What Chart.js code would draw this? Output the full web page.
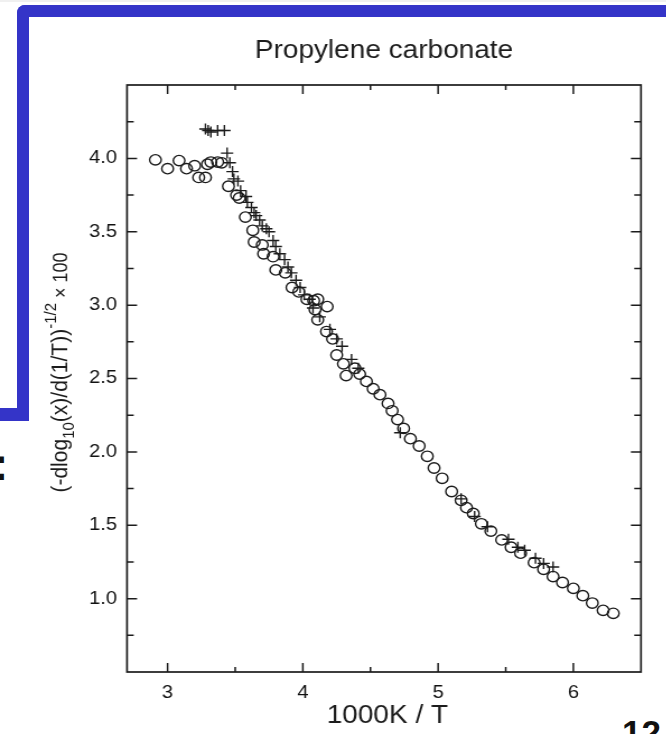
<!DOCTYPE html>
<html>
<head>
<meta charset="utf-8">
<script src="https://cdn.jsdelivr.net/npm/chart.js@4/dist/chart.umd.min.js"></script>
<style>
  html, body { margin: 0; padding: 0; background: #fff; overflow: hidden; }
  body { width: 666px; height: 734px; position: relative; }
  .bar { position: absolute; background: #3434c8; }
  #plot { position: absolute; left: 0; top: 0; transform-origin: 0 0; transform: scaleX(1.12); }
  .slide-txt { position: absolute; font-family: "Liberation Sans", Arial, sans-serif; font-weight: bold; color: #111; }
</style>
</head>
<body>
<div class="bar" style="left:0;top:0;width:666px;height:2px;background:#f0f0f0"></div>
<div class="bar" style="left:17px;top:5px;width:660px;height:12px;border-top-left-radius:8px"></div>
<div class="bar" style="left:17px;top:5px;width:12px;height:416px;border-top-left-radius:8px"></div>
<div class="bar" style="left:0;top:408px;width:29px;height:13px"></div>
<div class="slide-txt" style="left:-7px;top:441px;font-size:46px;line-height:46px">:</div>
<div class="slide-txt" style="left:622px;top:713px;font-size:35px;line-height:40px">12</div>
<canvas id="plot" width="595" height="734"></canvas>
<script>
// open circles
const circleX = [2.91, 3.00, 3.085, 3.14, 3.20, 3.23, 3.28, 3.295, 3.32, 3.37, 3.40, 3.45, 3.51, 3.53,
  3.575, 3.63, 3.64, 3.70, 3.71, 3.78, 3.80, 3.87, 3.92, 3.97, 4.03, 4.08, 4.09, 4.11, 4.11, 4.18,
  4.175, 4.22, 4.25, 4.30, 4.32, 4.385, 4.42, 4.47, 4.52, 4.57, 4.63, 4.66, 4.70, 4.745, 4.795, 4.86,
  4.92, 4.97, 5.03, 5.10, 5.17, 5.21, 5.26, 5.32, 5.39, 5.47, 5.54, 5.61, 5.71, 5.78, 5.85, 5.92,
  6.00, 6.07, 6.14, 6.22, 6.295];
const circleY = [3.99, 3.93, 3.985, 3.93, 3.95, 3.87, 3.87, 3.96, 3.975, 3.975, 3.97, 3.81, 3.75, 3.73,
  3.60, 3.51, 3.43, 3.41, 3.35, 3.33, 3.24, 3.22, 3.12, 3.09, 3.04, 3.03, 2.97, 3.04, 2.90, 2.99,
  2.82, 2.77, 2.66, 2.60, 2.52, 2.57, 2.53, 2.48, 2.43, 2.39, 2.33, 2.28, 2.22, 2.16, 2.09, 2.04,
  1.97, 1.89, 1.82, 1.73, 1.67, 1.62, 1.58, 1.51, 1.46, 1.40, 1.35, 1.31, 1.245, 1.20, 1.15, 1.11,
  1.07, 1.02, 0.97, 0.92, 0.90];

// crosses
const crossX = [3.28, 3.30, 3.32, 3.37, 3.42, 3.44, 3.46, 3.48, 3.49, 3.52, 3.54, 3.58, 3.59, 3.62,
  3.64, 3.655, 3.68, 3.70, 3.73, 3.75, 3.78, 3.80, 3.83, 3.865, 3.89, 3.915, 3.95, 3.98, 4.01, 4.05,
  4.075, 4.125, 4.20, 4.25, 4.29, 4.36, 4.41, 4.72, 5.17, 5.27, 5.365, 5.52, 5.59, 5.64, 5.72, 5.78, 5.85];
const crossY = [4.20, 4.19, 4.18, 4.19, 4.19, 4.036, 3.97, 3.91, 3.86, 3.845, 3.78, 3.74, 3.70, 3.665,
  3.63, 3.61, 3.58, 3.54, 3.52, 3.50, 3.44, 3.40, 3.35, 3.31, 3.26, 3.22, 3.17, 3.12, 3.07, 3.04,
  2.98, 2.92, 2.835, 2.77, 2.72, 2.63, 2.57, 2.13, 1.68, 1.56, 1.49, 1.405, 1.35, 1.33, 1.275, 1.24, 1.215];

const xTicks = [3, 4, 5, 6];
const xMinor = [3.5, 4.5, 5.5];
const yTicks = [1.0, 1.5, 2.0, 2.5, 3.0, 3.5, 4.0];
const yMinor = [0.75, 1.25, 1.75, 2.25, 2.75, 3.25, 3.75, 4.25];

const FONT = '"Liberation Sans", Arial, sans-serif';
const INK = '#1c1c1c';

// inward ticks, frame and titles
const framePlugin = {
  id: 'frame',
  afterDraw(chart) {
    const { ctx, chartArea: a, scales: { x, y } } = chart;
    ctx.save();
    ctx.strokeStyle = INK;
    ctx.lineWidth = 1.7;
    ctx.strokeRect(a.left, a.top, a.right - a.left, a.bottom - a.top);
    ctx.lineWidth = 1.5;
    ctx.beginPath();
    const xt = (v, len) => {
      const p = x.getPixelForValue(v);
      ctx.moveTo(p, a.bottom); ctx.lineTo(p, a.bottom - len);
      ctx.moveTo(p, a.top); ctx.lineTo(p, a.top + len);
    };
    const yt = (v, len) => {
      const p = y.getPixelForValue(v);
      ctx.moveTo(a.left, p); ctx.lineTo(a.left + len, p);
      ctx.moveTo(a.right, p); ctx.lineTo(a.right - len, p);
    };
    xTicks.forEach(v => xt(v, 9));
    xMinor.forEach(v => xt(v, 5));
    yTicks.forEach(v => yt(v, 9));
    yMinor.forEach(v => yt(v, 6));
    ctx.stroke();

    ctx.fillStyle = INK;
    ctx.textAlign = 'center';
    ctx.textBaseline = 'middle';
    const cx = (a.left + a.right) / 2;
    ctx.font = '25px ' + FONT;
    ctx.fillText('Propylene carbonate', cx, 51);
    ctx.font = '25px ' + FONT;
    ctx.fillText('1000K / T', cx + 3, 716);

    // y title with sub- and superscripts
    const big = '21px ' + FONT, small = '15px ' + FONT;
    const parts = [
      ['(-dlog', big, 0], ['10', small, 6], ['(x)/d(1/T))', big, 0],
      ['-1/2', small, -10], [' \u00d7 100', '18px ' + FONT, 0]
    ];
    let total = 0;
    parts.forEach(p => { ctx.font = p[1]; total += ctx.measureText(p[0]).width; });
    ctx.translate(60, (a.top + a.bottom) / 2 - 6);
    ctx.rotate(-Math.PI / 2);
    ctx.textAlign = 'left';
    ctx.textBaseline = 'alphabetic';
    let pos = -total / 2;
    parts.forEach(p => {
      ctx.font = p[1];
      ctx.fillText(p[0], pos, p[2]);
      pos += ctx.measureText(p[0]).width;
    });
    ctx.restore();
  }
};

new Chart(document.getElementById('plot'), {
  type: 'scatter',
  data: {
    datasets: [
      {
        label: 'circles',
        data: circleX.map((v, i) => ({ x: v, y: circleY[i] })),
        pointStyle: 'circle',
        pointRadius: 5.2,
        borderColor: INK,
        backgroundColor: 'rgba(0,0,0,0)',
        borderWidth: 1.4
      },
      {
        label: 'crosses',
        data: crossX.map((v, i) => ({ x: v, y: crossY[i] })),
        pointStyle: 'cross',
        pointRadius: 5.5,
        borderColor: INK,
        borderWidth: 1.4
      }
    ]
  },
  options: {
    responsive: false,
    animation: false,
    devicePixelRatio: 1,
    layout: { padding: { top: 85, right: 22.7, left: 0, bottom: 0 } },
    plugins: { legend: { display: false }, tooltip: { enabled: false }, title: { display: false } },
    scales: {
      x: {
        type: 'linear', min: 2.7, max: 6.5,
        afterBuildTicks: s => { s.ticks = xTicks.map(v => ({ value: v })); },
        afterFit: s => { s.height = 62; },
        grid: { display: false, drawTicks: false },
        border: { display: false },
        ticks: { color: '#111', padding: 10, font: { size: 18, family: FONT }, maxRotation: 0 }
      },
      y: {
        type: 'linear', min: 0.5, max: 4.5,
        afterBuildTicks: s => { s.ticks = yTicks.map(v => ({ value: v })); },
        afterFit: s => { s.width = 113.4; },
        grid: { display: false, drawTicks: false },
        border: { display: false },
        ticks: { color: '#111', padding: 9, font: { size: 18, family: FONT }, callback: v => v.toFixed(1) }
      }
    }
  },
  plugins: [framePlugin]
});
</script>
</body>
</html>
